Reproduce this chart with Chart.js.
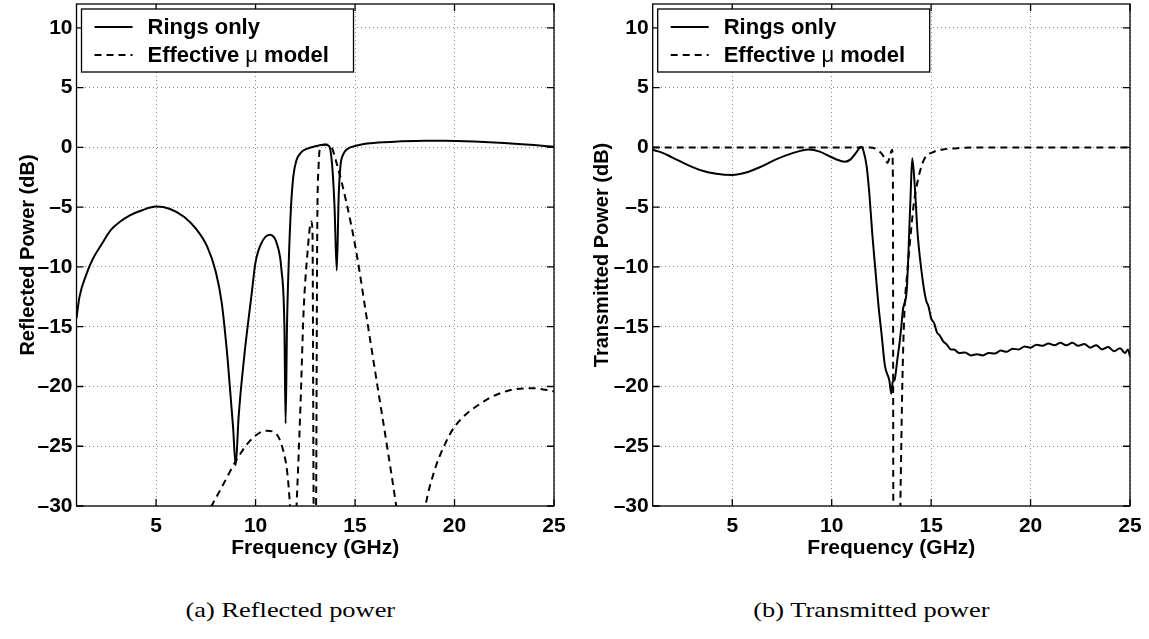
<!DOCTYPE html>
<html lang="en">
<head>
<meta charset="UTF-8">
<title>Reflected and transmitted power</title>
<style>
  body { margin: 0; background: #fff; width: 1149px; height: 639px; position: relative; overflow: hidden; }
  .panel { position: absolute; top: 0; }
  .caption { position: absolute; top: 597px; width: 400px; text-align: center; font-family: 'Liberation Serif', serif; font-size: 22px; color: #000; }
  .caption span { display: inline-block; transform: scaleX(1.2); }
</style>
</head>
<body>
<div class="panel" style="left:0"><canvas id="reflChart" width="575" height="565"></canvas></div>
<div class="panel" style="left:575px"><canvas id="transChart" width="574" height="565"></canvas></div>
<div class="caption" style="left:90px"><span>(a) Reflected power</span></div>
<div class="caption" style="left:671px"><span>(b) Transmitted power</span></div>

<script src="https://cdn.jsdelivr.net/npm/chart.js"></script>
<script>
  // tick labels
  const freqTicks = [5, 10, 15, 20, 25];
  const dbTicks = [-30, -25, -20, -15, -10, -5, 0, 5, 10];
  const seriesNames = ['Rings only', 'Effective μ model'];

  // (a) reflected power, rings only
  const reflRingsF = [1, 1.15, 1.5, 1.8, 2.3, 2.73, 3.2, 3.66, 4.3, 5.0, 5.7, 6.4, 7.0, 7.57, 8.0, 8.3, 8.6, 8.87, 9.0,
    9.15, 9.43, 9.8, 10.0, 10.36, 10.73, 11.1, 11.3, 11.45, 11.51, 11.58, 11.66, 11.78, 11.9, 12.05, 12.3, 12.6, 13.0,
    13.5, 13.7, 13.85, 13.97, 14.08, 14.18, 14.27, 14.4, 14.6, 15.0, 15.75, 17.0, 18.5, 19.5, 21.0, 22.5, 24.0, 25.0];
  const reflRingsDb = [-14.3, -12.5, -10.6, -9.4, -8.0, -6.9, -6.2, -5.7, -5.25, -4.95, -5.15, -5.8, -6.8, -8.3, -10.4,
    -13.0, -17.8, -23.4, -26.6, -22.5, -17.5, -12.3, -9.6, -7.8, -7.3, -8.2, -10.2, -15.0, -23.1, -15.0, -10.0, -5.0,
    -2.4, -1.1, -0.4, -0.1, 0.1, 0.22, 0.1, -1.5, -5.0, -10.3, -4.0, -1.5, -0.6, -0.15, 0.12, 0.35, 0.48, 0.55, 0.56,
    0.5, 0.38, 0.2, 0.05];

  // (a) reflected power, effective mu model
  const reflModelF = [7.5, 7.79, 8.31, 9.06, 9.8, 10.55, 11.0, 11.38, 11.6, 11.73, 11.85, 11.95, 12.06, 12.26, 12.41,
    12.6, 12.8, 12.86, 12.93, 13.03, 13.1, 13.17, 13.28, 13.5, 13.8, 14.07, 14.58, 15.08, 15.58, 16.13, 16.59, 17.07,
    17.4, 18.2, 18.54, 19.0, 19.47, 19.99, 21.33, 22.82, 23.94, 25.0];
  const reflModelDb = [-31, -30, -28.4, -26.1, -24.4, -23.7, -23.9, -25.3, -27.3, -30, -34, -34, -30, -21.5, -13.9,
    -9.0, -6.2, -7.0, -32, -32, -7.0, -1.5, 0.1, 0.25, 0.05, -1.3, -4.7, -8.9, -14.2, -20.0, -24.8, -30, -34, -34,
    -30, -27.0, -25.0, -23.4, -21.4, -20.3, -20.15, -20.4];

  // (b) transmitted power, rings only
  const transRingsF = [1, 1.5, 2.0, 2.8, 3.5, 4.2, 5.0, 5.7, 6.46, 7.2, 8.0, 8.84, 9.4, 9.94, 10.4, 10.67, 10.95, 11.2,
    11.49, 11.6, 11.76, 11.9, 12.04, 12.2, 12.35, 12.5, 12.68, 12.9, 13.0, 13.07, 13.15, 13.32, 13.41, 13.5, 13.59,
    13.77, 13.96, 14.05, 14.18, 14.32, 14.6, 14.75, 14.87, 15.0, 15.15, 15.3, 15.42, 15.6, 15.79, 16.0, 16.15, 16.4,
    16.7, 17.0, 17.3, 17.6, 17.9, 18.2, 18.5, 18.8, 19.1, 19.4, 19.7, 20.0, 20.3, 20.6, 20.9, 21.2, 21.5, 21.8, 22.1,
    22.4, 22.7, 23.0, 23.3, 23.6, 23.9, 24.2, 24.5, 24.75, 24.9, 25.0];
  const transRingsDb = [-0.2, -0.45, -0.85, -1.5, -1.95, -2.2, -2.3, -2.1, -1.6, -1.0, -0.5, -0.17, -0.35, -0.78, -1.1,
    -1.2, -1.0, -0.5, 0.06, -0.3, -1.6, -4.0, -7.2, -10.3, -13.2, -15.5, -18.3, -19.5, -20.6, -19.6, -19.5, -17.5,
    -16.4, -15.0, -13.5, -12.0, -4.4, -0.9, -3.3, -7.2, -11.4, -12.8, -13.3, -14.3, -14.7, -15.5, -15.7, -16.2, -16.5,
    -16.9, -16.9, -17.2, -17.15, -17.4, -17.3, -17.4, -17.2, -17.25, -17.0, -17.1, -16.85, -16.9, -16.65, -16.75,
    -16.5, -16.6, -16.4, -16.55, -16.35, -16.55, -16.35, -16.6, -16.45, -16.75, -16.55, -16.9, -16.7, -17.05, -16.8,
    -17.2, -16.9, -17.5];

  // (b) transmitted power, effective mu model
  const transModelF = [1, 11.9, 12.2, 12.5, 12.7, 12.8, 12.9, 13.04, 13.08, 13.1, 13.2, 13.4, 13.47, 13.55, 13.65,
    13.8, 14.0, 14.13, 14.3, 14.63, 15.13, 15.6, 16.5, 17.4, 25.0];
  const transModelDb = [0, 0, -0.1, -0.5, -1.0, -1.3, -0.9, -0.2, -3.0, -31, -35, -35, -28, -20, -14, -10.5, -6.8,
    -4.7, -3.0, -1.06, -0.37, -0.17, -0.05, 0, 0];

  Chart.defaults.font.family = '"Liberation Sans", Arial, sans-serif';
  Chart.defaults.color = '#000';

  function drawLabel(ctx, text, x, y) {
    const parts = text.split('μ');
    let cx = x;
    parts.forEach((p, i) => {
      if (i > 0) {
        ctx.font = '22px "Liberation Sans"';
        ctx.fillText('μ', cx, y);
        cx += ctx.measureText('μ').width;
      }
      ctx.font = 'bold 22px "Liberation Sans"';
      ctx.fillText(p, cx, y);
      cx += ctx.measureText(p).width;
    });
  }

  // box round the plot, inward ticks and the legend
  const framePlugin = {
    id: 'frame',
    afterDraw(chart) {
      const { ctx, chartArea: a } = chart;
      const xs = chart.scales.x, ys = chart.scales.y;
      ctx.save();
      ctx.strokeStyle = '#000';
      ctx.lineWidth = 1.3;
      ctx.strokeRect(a.left, a.top, a.right - a.left, a.bottom - a.top);
      ctx.beginPath();
      freqTicks.forEach(v => {
        const px = xs.getPixelForValue(v);
        ctx.moveTo(px, a.bottom); ctx.lineTo(px, a.bottom - 7);
        ctx.moveTo(px, a.top); ctx.lineTo(px, a.top + 7);
      });
      dbTicks.forEach(v => {
        const py = ys.getPixelForValue(v);
        ctx.moveTo(a.left, py); ctx.lineTo(a.left + 7, py);
        ctx.moveTo(a.right, py); ctx.lineTo(a.right - 7, py);
      });
      ctx.stroke();

      // legend
      ctx.fillStyle = '#fff';
      ctx.fillRect(a.left + 5, a.top + 5, 272, 63);
      ctx.strokeRect(a.left + 5, a.top + 5, 272, 63);
      ctx.textBaseline = 'middle';
      chart.data.datasets.forEach((ds, i) => {
        const ly = a.top + 23 + i * 28;
        ctx.beginPath();
        ctx.lineWidth = ds.borderWidth;
        ctx.setLineDash(ds.borderDash || []);
        ctx.moveTo(a.left + 18, ly);
        ctx.lineTo(a.left + 56, ly);
        ctx.stroke();
        ctx.setLineDash([]);
        ctx.fillStyle = '#000';
        drawLabel(ctx, ds.label, a.left + 71, ly + 1);
      });
      ctx.restore();
    }
  };

  function points(fs, vals) {
    return fs.map((f, i) => ({ x: f, y: vals[i] }));
  }

  function makeChart(id, yTitle, ringsF, ringsDb, modelF, modelDb, padLeft, axisWidth, padRight) {
    return new Chart(document.getElementById(id), {
      type: 'line',
      data: {
        datasets: [
          {
            label: seriesNames[0],
            data: points(ringsF, ringsDb),
            borderColor: '#000',
            borderWidth: 2,
            borderDash: [],
            pointRadius: 0,
            cubicInterpolationMode: 'monotone'
          },
          {
            label: seriesNames[1],
            data: points(modelF, modelDb),
            borderColor: '#000',
            borderWidth: 2,
            borderDash: [7, 5],
            pointRadius: 0,
            cubicInterpolationMode: 'monotone'
          }
        ]
      },
      options: {
        responsive: false,
        animation: false,
        layout: { padding: { left: padLeft, right: padRight, top: 4, bottom: 4 } },
        plugins: { legend: { display: false }, tooltip: { enabled: false } },
        scales: {
          x: {
            type: 'linear',
            min: 1,
            max: 25,
            afterBuildTicks: s => { s.ticks = freqTicks.map(v => ({ value: v })); },
            afterFit: s => { s.height = 55; s.paddingLeft = 0; s.paddingRight = 0; },
            ticks: { font: { size: 21, weight: 'bold' }, padding: 8, maxRotation: 0, autoSkip: false },
            grid: { color: '#8a8a8a', lineWidth: 1, drawTicks: false },
            border: { display: false, dash: [1, 3] },
            title: { display: true, text: 'Frequency (GHz)', font: { size: 21, weight: 'bold' }, padding: 0 }
          },
          y: {
            type: 'linear',
            min: -30,
            max: 12,
            afterBuildTicks: s => { s.ticks = dbTicks.map(v => ({ value: v })); },
            afterFit: s => { s.width = axisWidth; s.paddingTop = 0; s.paddingBottom = 0; },
            ticks: {
              font: { size: 21, weight: 'bold' },
              padding: 4,
              autoSkip: false,
              callback: v => String(v).replace('-', '\u2013')
            },
            grid: { color: '#8a8a8a', lineWidth: 1, drawTicks: false },
            border: { display: false, dash: [1, 3] },
            title: { display: true, text: yTitle, font: { size: 20, weight: 'bold' }, padding: 0 }
          }
        }
      },
      plugins: [framePlugin]
    });
  }

  makeChart('reflChart', 'Reflected Power (dB)', reflRingsF, reflRingsDb, reflModelF, reflModelDb, 16, 60.5, 21);
  makeChart('transChart', 'Transmitted Power (dB)', transRingsF, transRingsDb, transModelF, transModelDb, 15, 62.7, 19);
</script>
</body>
</html>
